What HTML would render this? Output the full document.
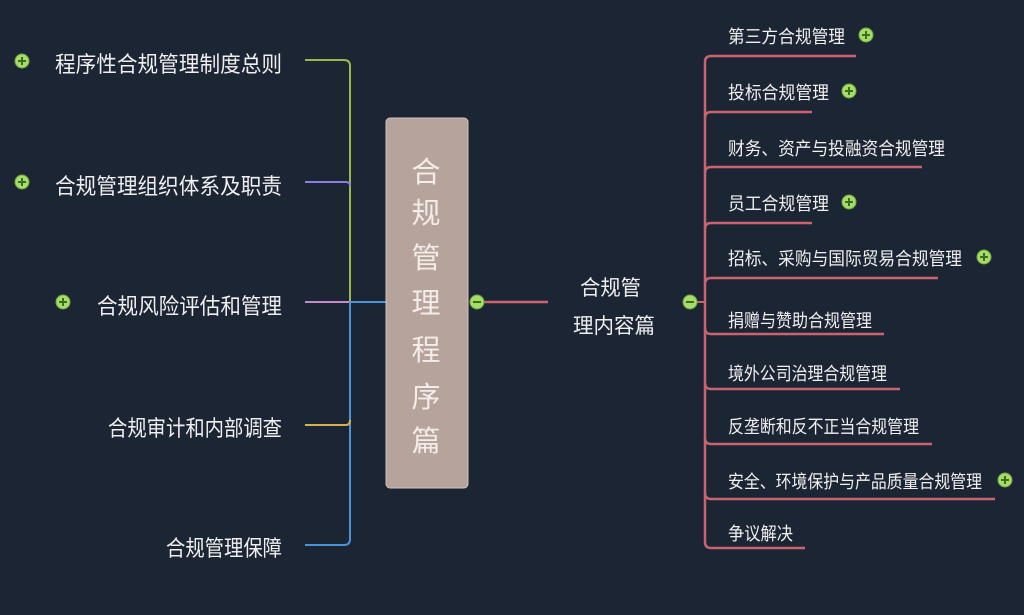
<!DOCTYPE html>
<html><head><meta charset="utf-8"><style>
html,body{margin:0;padding:0;background:#1c2533;}
svg{display:block}
text{font-family:"Liberation Sans","Noto Sans CJK SC","WenQuanYi Zen Hei",sans-serif;fill:#f0f0f0;}
.l{font-size:22px}
.r{font-size:18px}
</style></head><body>
<svg width="1024" height="615" viewBox="0 0 1024 615">
<rect width="1024" height="615" fill="#1c2533"/>
<defs>
<g id="plus"><circle r="7" fill="#a6dc6c" stroke="#6fa83a" stroke-width="1"/><path d="M-4 0H4M0 -4V4" stroke="#3d6e1c" stroke-width="2"/></g>
<g id="minus"><circle r="7" fill="#a6dc6c" stroke="#6fa83a" stroke-width="1"/><path d="M-4 0H4" stroke="#3d6e1c" stroke-width="2"/></g>
</defs>
<path d="M305 60H344Q350 60 350 66V302" stroke="#9bb84a" stroke-width="2" fill="none"/>
<path d="M305 182H346Q350 182 350 186" stroke="#8a7fe0" stroke-width="2" fill="none"/>
<path d="M305 302H350" stroke="#c889c9" stroke-width="2" fill="none"/>
<path d="M350 302V539Q350 545 344 545H305" stroke="#4c94d8" stroke-width="2" fill="none"/>
<path d="M305 425H346Q350 425 350 420" stroke="#d8b050" stroke-width="2" fill="none"/>
<path d="M350 302H386" stroke="#4c94d8" stroke-width="2" fill="none"/>
<text class="l" x="55" y="72" textLength="227" lengthAdjust="spacingAndGlyphs">程序性合规管理制度总则</text>
<text class="l" x="55" y="194" textLength="227" lengthAdjust="spacingAndGlyphs">合规管理组织体系及职责</text>
<text class="l" x="97" y="314" textLength="185" lengthAdjust="spacingAndGlyphs">合规风险评估和管理</text>
<text class="l" x="108" y="436" textLength="174" lengthAdjust="spacingAndGlyphs">合规审计和内部调查</text>
<text class="l" x="166" y="556" textLength="116" lengthAdjust="spacingAndGlyphs">合规管理保障</text>
<use href="#plus" x="22" y="61"/>
<use href="#plus" x="22" y="182"/>
<use href="#plus" x="63" y="302"/>
<rect x="386" y="118" width="82" height="370" rx="4" fill="#b5a39c" stroke="#d0c4be" stroke-width="1"/>
<g style="font-size:29px;text-anchor:middle">
<text x="426" y="182" style="fill:#f3ece8">合</text>
<text x="426" y="223" style="fill:#f3ece8">规</text>
<text x="426" y="268" style="fill:#f3ece8">管</text>
<text x="426" y="313" style="fill:#f3ece8">理</text>
<text x="426" y="360" style="fill:#f3ece8">程</text>
<text x="426" y="407" style="fill:#f3ece8">序</text>
<text x="426" y="451" style="fill:#f3ece8">篇</text>
</g>
<path d="M477 302H548" stroke="#c9636e" stroke-width="2.5"/>
<use href="#minus" x="477" y="302"/>
<text x="580" y="295" style="font-size:21px" textLength="61" lengthAdjust="spacingAndGlyphs">合规管</text>
<text x="573" y="333" style="font-size:21px" textLength="82" lengthAdjust="spacingAndGlyphs">理内容篇</text>
<path d="M684 302H705" stroke="#c9636e" stroke-width="2"/>
<use href="#minus" x="690" y="302"/>
<g stroke="#c9636e" stroke-width="2.5" fill="none">
<path d="M705 62Q705 56 711 56H856"/>
<path d="M705 62V542Q705 548 711 548H805"/>
<path d="M705 118Q705 112 711 112H812"/>
<path d="M705 173Q705 167 711 167H922"/>
<path d="M705 229Q705 223 711 223H812"/>
<path d="M705 284Q705 278 711 278H938"/>
<path d="M705 328Q705 334 711 334H884"/>
<path d="M705 383Q705 389 711 389H900"/>
<path d="M705 438Q705 444 711 444H932"/>
<path d="M705 493Q705 499 711 499H995"/>
</g>
<text class="r" x="728" y="43" textLength="117" lengthAdjust="spacingAndGlyphs">第三方合规管理</text>
<text class="r" x="728" y="99" textLength="101" lengthAdjust="spacingAndGlyphs">投标合规管理</text>
<text class="r" x="728" y="155" textLength="217" lengthAdjust="spacingAndGlyphs">财务、资产与投融资合规管理</text>
<text class="r" x="728" y="210" textLength="101" lengthAdjust="spacingAndGlyphs">员工合规管理</text>
<text class="r" x="728" y="265" textLength="234" lengthAdjust="spacingAndGlyphs">招标、采购与国际贸易合规管理</text>
<text class="r" x="728" y="327" textLength="144" lengthAdjust="spacingAndGlyphs">捐赠与赞助合规管理</text>
<text class="r" x="728" y="380" textLength="159" lengthAdjust="spacingAndGlyphs">境外公司治理合规管理</text>
<text class="r" x="728" y="433" textLength="191" lengthAdjust="spacingAndGlyphs">反垄断和反不正当合规管理</text>
<text class="r" x="728" y="488" textLength="254" lengthAdjust="spacingAndGlyphs">安全、环境保护与产品质量合规管理</text>
<text class="r" x="728" y="540" textLength="65" lengthAdjust="spacingAndGlyphs">争议解决</text>
<use href="#plus" x="866" y="35"/>
<use href="#plus" x="849" y="91"/>
<use href="#plus" x="849" y="202"/>
<use href="#plus" x="984" y="257"/>
<use href="#plus" x="1005" y="480"/>
</svg>
</body></html>
